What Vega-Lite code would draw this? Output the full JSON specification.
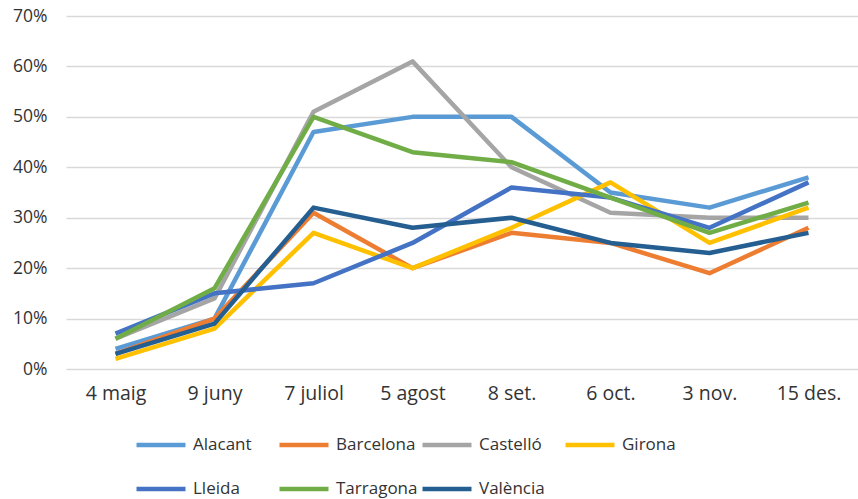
{
  "$schema": "https://vega.github.io/schema/vega-lite/v6.json",
  "width": 792,
  "height": 353,
  "autosize": {"type": "none"},
  "padding": {"left": 66, "top": 16, "right": 0, "bottom": 130},
  "background": "white",
  "config": {
    "view": {"stroke": null},
    "font": "Open Sans",
    "axis": {"labelFont": "Open Sans", "labelColor": "#333333"},
    "legend": {"labelFont": "Open Sans", "labelFontSize": 17, "labelColor": "#333333"}
  },
  "data": {
    "values": [
      {"date": "4 maig", "city": "Alacant", "value": 0.04},
      {"date": "9 juny", "city": "Alacant", "value": 0.10},
      {"date": "7 juliol", "city": "Alacant", "value": 0.47},
      {"date": "5 agost", "city": "Alacant", "value": 0.50},
      {"date": "8 set.", "city": "Alacant", "value": 0.50},
      {"date": "6 oct.", "city": "Alacant", "value": 0.35},
      {"date": "3 nov.", "city": "Alacant", "value": 0.32},
      {"date": "15 des.", "city": "Alacant", "value": 0.38},
      {"date": "4 maig", "city": "Barcelona", "value": 0.03},
      {"date": "9 juny", "city": "Barcelona", "value": 0.10},
      {"date": "7 juliol", "city": "Barcelona", "value": 0.31},
      {"date": "5 agost", "city": "Barcelona", "value": 0.20},
      {"date": "8 set.", "city": "Barcelona", "value": 0.27},
      {"date": "6 oct.", "city": "Barcelona", "value": 0.25},
      {"date": "3 nov.", "city": "Barcelona", "value": 0.19},
      {"date": "15 des.", "city": "Barcelona", "value": 0.28},
      {"date": "4 maig", "city": "Castelló", "value": 0.06},
      {"date": "9 juny", "city": "Castelló", "value": 0.14},
      {"date": "7 juliol", "city": "Castelló", "value": 0.51},
      {"date": "5 agost", "city": "Castelló", "value": 0.61},
      {"date": "8 set.", "city": "Castelló", "value": 0.40},
      {"date": "6 oct.", "city": "Castelló", "value": 0.31},
      {"date": "3 nov.", "city": "Castelló", "value": 0.30},
      {"date": "15 des.", "city": "Castelló", "value": 0.30},
      {"date": "4 maig", "city": "Girona", "value": 0.02},
      {"date": "9 juny", "city": "Girona", "value": 0.08},
      {"date": "7 juliol", "city": "Girona", "value": 0.27},
      {"date": "5 agost", "city": "Girona", "value": 0.20},
      {"date": "8 set.", "city": "Girona", "value": 0.28},
      {"date": "6 oct.", "city": "Girona", "value": 0.37},
      {"date": "3 nov.", "city": "Girona", "value": 0.25},
      {"date": "15 des.", "city": "Girona", "value": 0.32},
      {"date": "4 maig", "city": "Lleida", "value": 0.07},
      {"date": "9 juny", "city": "Lleida", "value": 0.15},
      {"date": "7 juliol", "city": "Lleida", "value": 0.17},
      {"date": "5 agost", "city": "Lleida", "value": 0.25},
      {"date": "8 set.", "city": "Lleida", "value": 0.36},
      {"date": "6 oct.", "city": "Lleida", "value": 0.34},
      {"date": "3 nov.", "city": "Lleida", "value": 0.28},
      {"date": "15 des.", "city": "Lleida", "value": 0.37},
      {"date": "4 maig", "city": "Tarragona", "value": 0.06},
      {"date": "9 juny", "city": "Tarragona", "value": 0.16},
      {"date": "7 juliol", "city": "Tarragona", "value": 0.50},
      {"date": "5 agost", "city": "Tarragona", "value": 0.43},
      {"date": "8 set.", "city": "Tarragona", "value": 0.41},
      {"date": "6 oct.", "city": "Tarragona", "value": 0.34},
      {"date": "3 nov.", "city": "Tarragona", "value": 0.27},
      {"date": "15 des.", "city": "Tarragona", "value": 0.33},
      {"date": "4 maig", "city": "València", "value": 0.03},
      {"date": "9 juny", "city": "València", "value": 0.09},
      {"date": "7 juliol", "city": "València", "value": 0.32},
      {"date": "5 agost", "city": "València", "value": 0.28},
      {"date": "8 set.", "city": "València", "value": 0.30},
      {"date": "6 oct.", "city": "València", "value": 0.25},
      {"date": "3 nov.", "city": "València", "value": 0.23},
      {"date": "15 des.", "city": "València", "value": 0.27}
    ]
  },
  "mark": {"type": "line", "strokeWidth": 4.5, "strokeJoin": "round"},
  "encoding": {
    "x": {
      "field": "date",
      "type": "ordinal",
      "sort": ["4 maig", "9 juny", "7 juliol", "5 agost", "8 set.", "6 oct.", "3 nov.", "15 des."],
      "scale": {"paddingInner": 0, "paddingOuter": 0.5},
      "axis": {"title": null, "labelAngle": 0, "labelFontSize": 19.5, "domain": false, "ticks": false, "labelPadding": 15, "grid": false}
    },
    "y": {
      "field": "value",
      "type": "quantitative",
      "scale": {"domain": [0, 0.7], "nice": false},
      "axis": {"title": null, "format": ".0%", "labelFontSize": 17.5, "values": [0, 0.1, 0.2, 0.3, 0.4, 0.5, 0.6, 0.7], "domain": false, "ticks": false, "labelPadding": 19, "gridColor": "#d9d9d9", "gridWidth": 1.5}
    },
    "color": {
      "field": "city",
      "type": "nominal",
      "scale": {
        "domain": ["Alacant", "Barcelona", "Castelló", "Girona", "Lleida", "Tarragona", "València"],
        "range": ["#5B9BD5", "#ED7D31", "#A5A5A5", "#FFC000", "#4472C4", "#70AD47", "#255E91"]
      },
      "legend": {
        "title": null,
        "orient": "none",
        "legendX": 68,
        "legendY": 402,
        "direction": "horizontal",
        "columns": 4,
        "gridAlign": "all",
        "columnPadding": -5,
        "rowPadding": 8,
        "symbolType": "stroke",
        "symbolSize": 2400,
        "symbolStrokeWidth": 4.5,
        "labelOffset": 5,
        "padding": 0
      }
    }
  }
}
